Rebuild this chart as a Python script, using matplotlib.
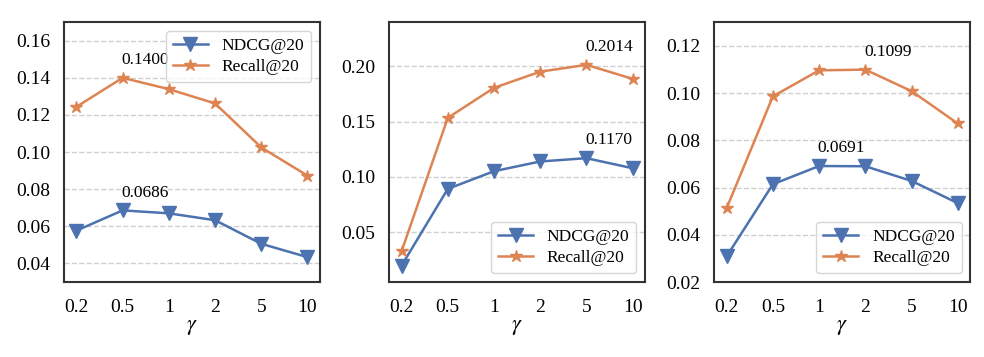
import numpy as np
import matplotlib
matplotlib.use("Agg")
import matplotlib.pyplot as plt

# gamma values (categorical x axis)
gammas = ['0.2', '0.5', '1', '2', '5', '10']

# panel 1
ndcg_1 = [0.0577, 0.0686, 0.0670, 0.0633, 0.0506, 0.0434]
recall_1 = [0.1244, 0.1400, 0.1339, 0.1262, 0.1025, 0.0873]
# panel 2
ndcg_2 = [0.0199, 0.0892, 0.1052, 0.1140, 0.1170, 0.1079]
recall_2 = [0.0328, 0.1534, 0.1806, 0.1952, 0.2014, 0.1887]
# panel 3
ndcg_3 = [0.0309, 0.0614, 0.0691, 0.0690, 0.0628, 0.0534]
recall_3 = [0.0513, 0.0986, 0.1096, 0.1099, 0.1008, 0.0871]

plt.rcParams['font.family'] = ['Liberation Serif', 'DejaVu Serif']
plt.rcParams['mathtext.fontset'] = 'stix'

blue = '#4C72B0'
orange = '#DD8452'

panels = [
    (ndcg_1, recall_1, (0.03, 0.17), np.arange(0.04, 0.161, 0.02), 'upper right'),
    (ndcg_2, recall_2, (0.005, 0.24), np.arange(0.05, 0.201, 0.05), 'lower right'),
    (ndcg_3, recall_3, (0.02, 0.13), np.arange(0.02, 0.121, 0.02), 'lower right'),
]

fig, axes = plt.subplots(1, 3, figsize=(9.84, 3.57), dpi=100)
plt.subplots_adjust(left=0.065, right=0.986, top=0.938, bottom=0.21, wspace=0.27)

x = np.arange(len(gammas))
for ax, (nd, rc, ylim, yt, loc) in zip(axes, panels):
    ax.plot(x, nd, marker='v', color=blue, lw=1.8, ms=10, label='NDCG@20')
    ax.plot(x, rc, marker='*', color=orange, lw=1.8, ms=9, label='Recall@20')
    # label the best value of each curve
    for s in (nd, rc):
        i = int(np.argmax(s))
        ax.annotate('%.4f' % s[i], (x[i], s[i]), xytext=(-1, 7), textcoords='offset points',
                    ha='left', va='bottom', fontsize=12.5)
    ax.set_ylim(*ylim)
    ax.set_xlim(-0.27, 5.27)
    ax.set_yticks(yt)
    ax.set_yticklabels(['%.2f' % v for v in yt])
    ax.set_xticks(x)
    ax.set_xticklabels(gammas)
    ax.tick_params(length=0, labelsize=14)
    ax.tick_params(axis='x', pad=12)
    ax.tick_params(axis='y', pad=10)
    ax.yaxis.grid(True, linestyle='--', color='#d0d0d0', lw=1)
    ax.set_axisbelow(True)
    for sp in ax.spines.values():
        sp.set_color('#333333')
        sp.set_linewidth(1.5)
    ax.set_xlabel(r'$\gamma$', fontsize=16, labelpad=2)
    ax.legend(loc=loc, fontsize=12.5, framealpha=0.8, edgecolor='#cccccc',
              handlelength=2.0, borderpad=0.4, labelspacing=0.3)

plt.savefig('out.png', dpi=100)
